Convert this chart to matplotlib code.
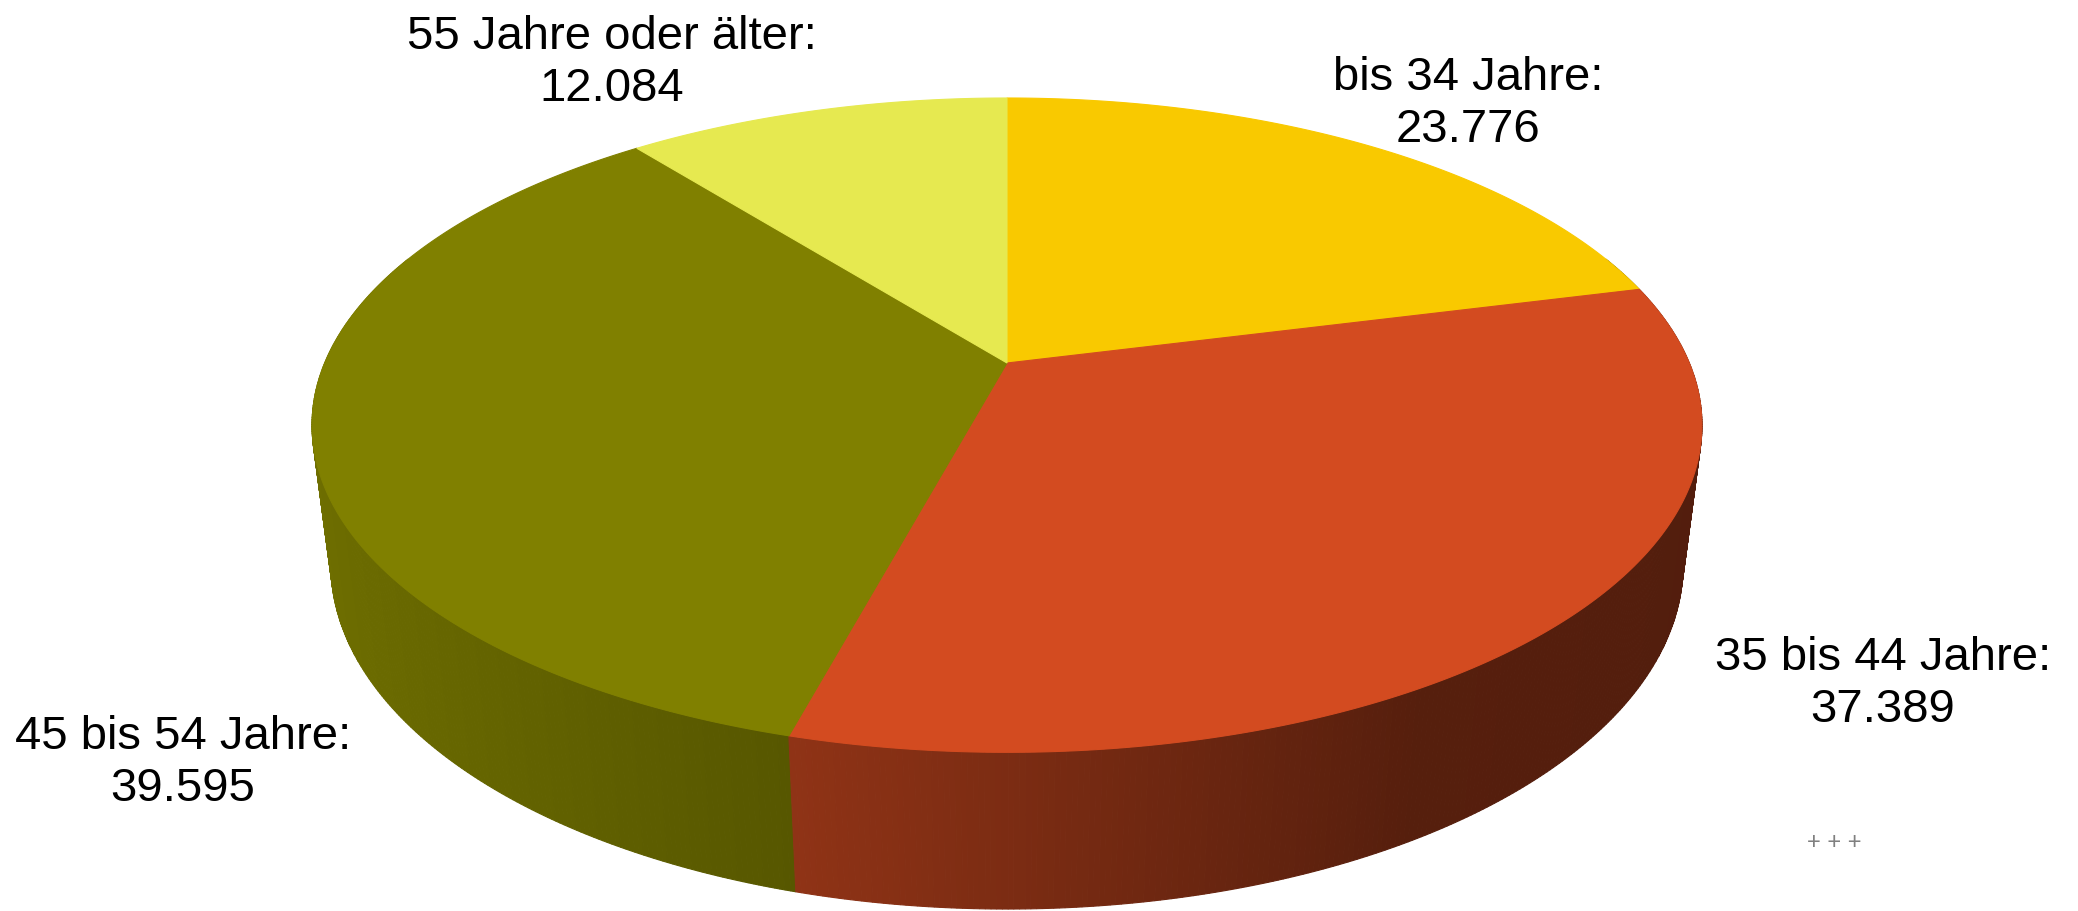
import numpy as np
import matplotlib
matplotlib.use("Agg")
import matplotlib.pyplot as plt
from matplotlib.patches import Polygon
from matplotlib.colors import to_rgb

plt.rcParams['font.family'] = ['Liberation Sans', 'DejaVu Sans']

# data
labels = ["bis 34 Jahre:", "35 bis 44 Jahre:", "45 bis 54 Jahre:", "55 Jahre oder älter:"]
values = [23776, 37389, 39595, 12084]
value_text = ["23.776", "37.389", "39.595", "12.084"]
colors = ["#F9C900", "#D34B20", "#808000", "#E6E950"]

# label centres in pixel space (layout only)
label_pos = [(1468, 104), (1883, 684), (183, 763), (612, 63)]

# perspective projection of the unit disc onto the canvas (pixels)
CX, CY = 1007, 364
A = 682.3
C1 = -246.2
K = 0.19
BOT_SHIFT = 151.5
BOT_W = 0.027


def proj(theta, bottom=False):
    X = np.sin(theta)
    Z = np.cos(theta)
    w = 1 + K * Z + (BOT_W if bottom else 0.0)
    u = CX + A * X / w
    v = (CY + (BOT_SHIFT if bottom else 0.0) + C1 * Z) / w
    return u, v


def shade(x):
    # lighter on the left, darker on the right
    return np.interp(x, [-1.0, -0.26, 0.5, 1.0], [0.87, 0.68, 0.41, 0.39])


fig = plt.figure(figsize=(20.78, 9.12), dpi=100)
ax = fig.add_axes([0, 0, 1, 1])
ax.set_xlim(0, 2078)
ax.set_ylim(912, 0)
ax.axis("off")

frac = np.array(values, dtype=float) / sum(values)
edges = np.concatenate([[0], np.cumsum(frac)]) * 2 * np.pi
step = np.radians(0.4)

# side wall, far to near
quads = []
for i in range(len(values)):
    t0, t1 = edges[i], edges[i + 1]
    n = max(int((t1 - t0) / step), 2)
    ts = np.linspace(t0, t1, n + 1)
    rgb = np.array(to_rgb(colors[i]))
    for a, b in zip(ts[:-1], ts[1:]):
        m = 0.5 * (a + b)
        if np.cos(m) > 0.35:
            continue
        ua, va = proj(a)
        ub, vb = proj(b)
        uc, vc = proj(b, True)
        ud, vd = proj(a, True)
        col = np.clip(rgb * shade(np.sin(m)), 0, 1)
        quads.append((np.cos(m), [(ua, va), (ub, vb), (uc, vc), (ud, vd)], col))
quads.sort(key=lambda q: -q[0])
for _, pts, col in quads:
    ax.add_patch(Polygon(pts, closed=True, fc=col, ec=col, lw=0.8))

# top face
for i in range(len(values)):
    ts = np.linspace(edges[i], edges[i + 1], 200)
    u, v = proj(ts)
    pts = [(CX, CY)] + list(zip(u, v))
    ax.add_patch(Polygon(pts, closed=True, fc=colors[i], ec=colors[i], lw=0.8))

for lab, val, (x, y) in zip(labels, value_text, label_pos):
    ax.text(x, y, f"{lab}\n{val}", ha="center", va="center", fontsize=34,
            linespacing=1.25, color="black")

ax.text(1834, 843, "+ + +", ha="center", va="center", fontsize=17, color="#808080")

fig.savefig("out.png", dpi=100)
